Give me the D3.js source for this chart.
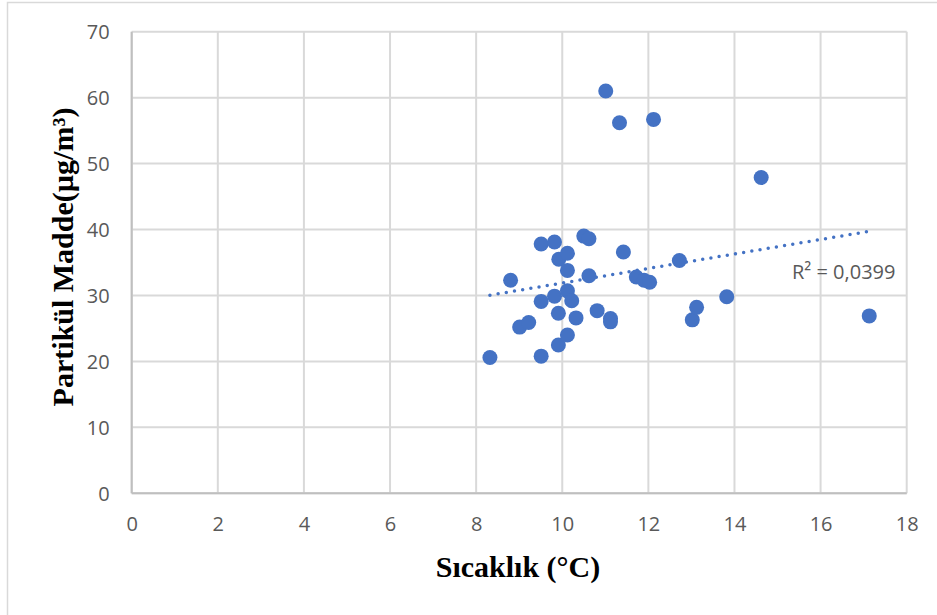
<!DOCTYPE html>
<html><head><meta charset="utf-8">
<script src="https://cdn.jsdelivr.net/npm/d3@7"></script>
<style>
html,body{margin:0;padding:0;background:#fff;}
svg{display:block;}
</style></head>
<body>
<svg id="chart" width="937" height="615"></svg>
<script>
const temperature = [8.32,8.80,9.01,9.22,9.51,9.51,9.51,9.82,9.82,9.92,9.91,9.91,10.12,10.12,10.12,10.12,10.22,10.32,10.50,10.62,10.62,10.81,11.12,11.12,11.01,11.33,11.42,11.72,11.90,12.03,12.12,12.72,13.02,13.12,13.82,14.62,17.13];
const particulate = [20.6,32.3,25.2,25.9,37.8,29.1,20.8,38.1,29.9,35.5,27.3,22.5,36.4,33.8,30.7,24.0,29.2,26.6,39.0,38.6,33.0,27.7,26.5,26.0,61.0,56.2,36.6,32.8,32.3,32.0,56.7,35.3,26.3,28.2,29.8,47.9,26.9];
const xTicks = [0,2,4,6,8,10,12,14,16,18];
const yTicks = [0,10,20,30,40,50,60,70];
const xTitle = "Sıcaklık (°C)";
const yTitle = "Partikül Madde(µg/m³)";
const r2Label = "R² = 0,0399";

(function(){
const svg = d3.select("#chart");
const pL = 131.7, pR = 906.7, pT = 31.7, pB = 493.3;
const x = d3.scaleLinear().domain([0,18]).range([pL,pR]);
const y = d3.scaleLinear().domain([0,70]).range([pB,pT]);

svg.append("rect").attr("x",7.5).attr("y",2.5).attr("width",1000).attr("height",1000)
  .attr("fill","none").attr("stroke","#d9d9d9").attr("stroke-width",1.5);

const g = svg.append("g");
g.selectAll(".vg").data(xTicks).join("line")
  .attr("x1",d=>x(d)).attr("x2",d=>x(d)).attr("y1",pT).attr("y2",pB)
  .attr("stroke","#d9d9d9").attr("stroke-width",2);
g.selectAll(".hg").data(yTicks).join("line")
  .attr("y1",d=>y(d)).attr("y2",d=>y(d)).attr("x1",pL).attr("x2",pR)
  .attr("stroke","#d9d9d9").attr("stroke-width",2);
g.append("line").attr("x1",pL).attr("x2",pL).attr("y1",pT).attr("y2",pB).attr("stroke","#bfbfbf").attr("stroke-width",2);
g.append("line").attr("x1",pL).attr("x2",pR).attr("y1",pB).attr("y2",pB).attr("stroke","#bfbfbf").attr("stroke-width",2);

const font = "'Open Sans', sans-serif";
const xAxis = svg.append("g").attr("transform",`translate(0,${pB})`)
  .call(d3.axisBottom(x).tickValues(xTicks).tickSize(0).tickPadding(0).tickFormat(d3.format("d")));
xAxis.select(".domain").remove();
xAxis.selectAll("text").attr("dy",null).attr("y",38).attr("font-family",font).attr("font-size",20).attr("fill","#595959");
const yAxis = svg.append("g").attr("transform",`translate(${pL},0)`)
  .call(d3.axisLeft(y).tickValues(yTicks).tickSize(0).tickPadding(0).tickFormat(d3.format("d")));
yAxis.select(".domain").remove();
yAxis.selectAll("text").attr("x",-22).attr("dy","0.35em").attr("font-family",font).attr("font-size",20).attr("fill","#595959");

const data = temperature.map((t,i)=>({t, p: particulate[i]}));
const mx = d3.mean(temperature), my = d3.mean(particulate);
const slope = d3.sum(data, d=>(d.t-mx)*(d.p-my)) / d3.sum(data, d=>(d.t-mx)*(d.t-mx));
const intercept = my - slope*mx;
const [tmin, tmax] = d3.extent(temperature);
svg.append("line")
  .attr("x1",x(tmin)).attr("y1",y(intercept+slope*tmin))
  .attr("x2",x(tmax)).attr("y2",y(intercept+slope*tmax))
  .attr("stroke","#4472c4").attr("stroke-width",3.5).attr("stroke-linecap","round")
  .attr("stroke-dasharray","0 8.3");

svg.append("g").selectAll("circle").data(data).join("circle")
  .attr("cx",d=>x(d.t)).attr("cy",d=>y(d.p)).attr("r",7.5)
  .attr("fill","#4472c4");

svg.append("text").attr("x",792).attr("y",279).attr("font-family",font).attr("font-size",20).attr("fill","#595959").text(r2Label);

svg.append("text").attr("x",518).attr("y",577).attr("text-anchor","middle")
  .attr("font-family","'Liberation Serif', 'Times New Roman', serif").attr("font-weight","bold").attr("font-size",30).attr("fill","#000")
  .text(xTitle);
svg.append("text").attr("transform","translate(73,257) rotate(-90)").attr("text-anchor","middle")
  .attr("font-family","'Liberation Serif', 'Times New Roman', serif").attr("font-weight","bold").attr("font-size",30).attr("fill","#000")
  .text(yTitle);
})();
</script>
</body></html>
